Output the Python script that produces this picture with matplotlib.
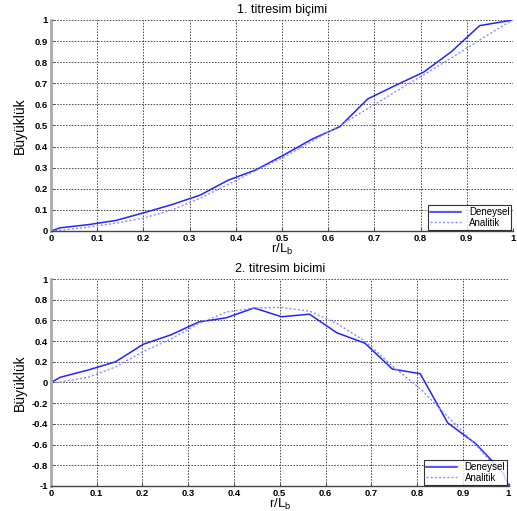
import matplotlib
matplotlib.use("Agg")
import matplotlib.pyplot as plt
from matplotlib.ticker import MultipleLocator, FuncFormatter

# r/Lb sample positions
r = [0, 0.02, 0.081, 0.141, 0.202, 0.262, 0.323, 0.383, 0.444, 0.504,
     0.565, 0.625, 0.686, 0.746, 0.807, 0.867, 0.928, 0.988, 1.0]

mode1_deneysel = [0, 0.015, 0.03, 0.05, 0.087, 0.125, 0.17, 0.24, 0.29, 0.36,
                  0.435, 0.494, 0.626, 0.69, 0.753, 0.85, 0.973, 0.995, 1.0]
mode1_analitik = [0, 0.003, 0.018, 0.037, 0.062, 0.10, 0.155, 0.22, 0.287, 0.35,
                  0.425, 0.50, 0.58, 0.66, 0.74, 0.82, 0.905, 0.985, 1.0]

mode2_deneysel = [0, 0.05, 0.12, 0.20, 0.37, 0.46, 0.585, 0.625, 0.72, 0.635,
                  0.66, 0.48, 0.38, 0.13, 0.085, -0.39, -0.59, -0.87, -1.0]
mode2_analitik = [0, 0.005, 0.05, 0.15, 0.30, 0.42, 0.57, 0.68, 0.72, 0.725,
                  0.69, 0.57, 0.40, 0.16, -0.06, -0.33, -0.60, -0.90, -1.0]

titles = ["1. titresim biçimi", "2. titresim bicimi"]
legend_labels = ["Deneysel", "Analitik"]
ylabel = "Büyüklük"
xlabel = r"r/L$_\mathregular{b}$"

plt.rcParams['font.family'] = ['Liberation Sans', 'DejaVu Sans']
plt.rcParams['axes.unicode_minus'] = False

fig = plt.figure(figsize=(5.17, 5.11), dpi=100)
ax1 = fig.add_axes([0.0986, 0.548, 0.8935, 0.413])
ax2 = fig.add_axes([0.0986, 0.049, 0.885, 0.405])

c_den = '#2424ff'
c_ana = '#8c8cff'

fmt = FuncFormatter(lambda v, p: ('%g' % round(v, 6)) if abs(v) > 1e-9 else '0')

def style(ax, ylim, ystep, title):
    ax.set_xlim(0, 1)
    ax.set_ylim(*ylim)
    ax.xaxis.set_major_locator(MultipleLocator(0.1))
    ax.yaxis.set_major_locator(MultipleLocator(ystep))
    ax.xaxis.set_major_formatter(fmt)
    ax.yaxis.set_major_formatter(fmt)
    ax.grid(True, linestyle=(0, (1.5, 1.5)), color='#444444', linewidth=0.7)
    for s in ['top', 'right']:
        ax.spines[s].set_visible(False)
    ax.spines['left'].set_color('#aaaaaa')
    ax.spines['left'].set_linewidth(2)
    ax.spines['bottom'].set_color('#444444')
    ax.spines['bottom'].set_linewidth(1)
    ax.tick_params(direction='in', length=2, labelsize=6.8, pad=2, colors='#444444',
                   labelcolor='black')
    for lab in ax.get_xticklabels() + ax.get_yticklabels():
        lab.set_fontweight('bold')
    ax.set_title(title, fontsize=9, pad=5)
    ax.set_xlabel(xlabel, fontsize=9.5, labelpad=-0.5)
    ax.set_ylabel(ylabel, fontsize=10,
                  family=['Liberation Sans Narrow', 'Liberation Sans', 'DejaVu Sans'])
    ax.yaxis.set_label_coords(-24 / (ax.get_position().width * 517), 0.5)
    leg = ax.legend(legend_labels, loc='lower right', fontsize=7, frameon=True,
                    fancybox=False, borderaxespad=0.15, handlelength=3.2,
                    borderpad=0.2, labelspacing=0.05, handletextpad=0.8)
    leg.get_frame().set_edgecolor('black')
    leg.get_frame().set_linewidth(0.8)

ax1.plot(r, mode1_deneysel, color=c_den, lw=1.1)
ax1.plot(r, mode1_analitik, color=c_ana, lw=1.0, linestyle=(0, (1.5, 1.5)))
style(ax1, (0, 1), 0.1, titles[0])

ax2.plot(r, mode2_deneysel, color=c_den, lw=1.1)
ax2.plot(r, mode2_analitik, color=c_ana, lw=1.0, linestyle=(0, (1.5, 1.5)))
style(ax2, (-1, 1), 0.2, titles[1])

fig.savefig("out.png", dpi=100)
